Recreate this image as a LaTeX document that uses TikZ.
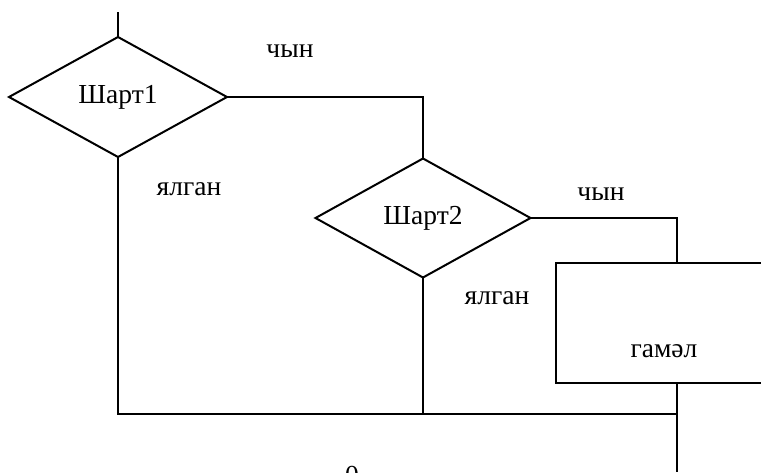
\documentclass[tikz,border=0pt]{standalone}
\usepackage{fontspec}
\setmainfont{Liberation Serif}
\usetikzlibrary{shapes.geometric}
\begin{document}
\begin{tikzpicture}[x=1pt,y=-1pt, line width=2pt,
  txt/.style={font=\fontsize{27.5}{32}\selectfont, inner sep=0pt},
  cond/.style={diamond, draw, inner sep=0pt, outer sep=0pt, txt},
  actbox/.style={draw, inner sep=0pt, outer sep=0pt}]
\useasboundingbox (0,0) rectangle (761,472);
\clip (0,0) rectangle (761,472);
% shapes
\node[cond, minimum width=218pt, minimum height=120pt] (d1) at (118,97) {Шарт1};
\node[cond, minimum width=215pt, minimum height=119pt] (d2) at (423,218) {Шарт2};
\node[actbox, minimum width=216pt, minimum height=120pt, anchor=north west] (act) at (556,263) {};
\node[txt] (acttext) at (664,351) {гамәл};
% labels
\node[txt] (t1) at (290,51) {чын};
\node[txt] (f1) at (189,189) {ялган};
\node[txt] (t2) at (601,194) {чын};
\node[txt] (f2) at (497,298) {ялган};
\node[txt, anchor=north] (zero) at (352,465) {0};
% coordinates
\coordinate (top) at (118,12);
\coordinate (ain) at (677,263);
\coordinate (aout) at (677,383);
\coordinate (jr) at (677,414);
\coordinate (bot) at (677,472);
% connectors
\draw (top) -- (d1.north);
\draw (d1.east) -| (d2.north);
\draw (d2.east) -| (ain);
\draw (d1.south) |- (jr);
\draw (d2.south) -- (d2.south |- jr);
\draw (aout) -- (bot);
\end{tikzpicture}
\end{document}
